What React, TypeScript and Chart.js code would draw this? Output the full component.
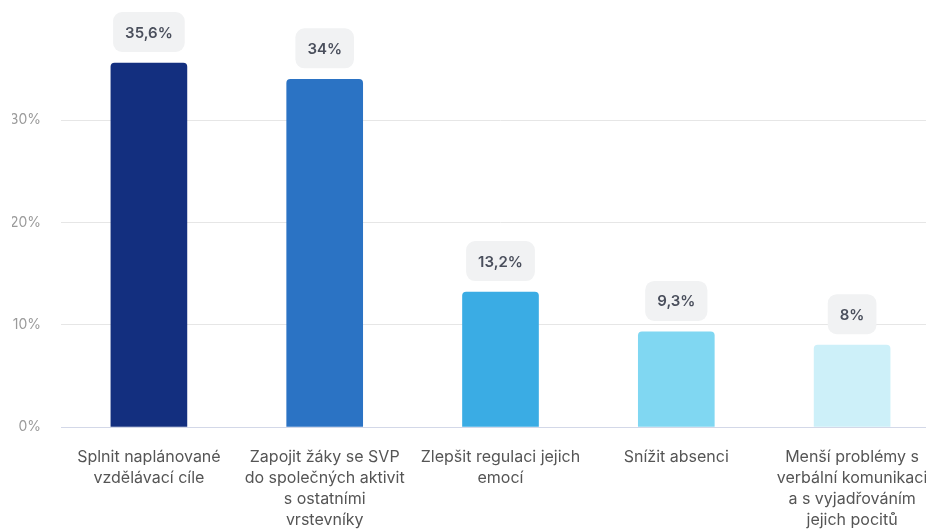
import React, { useEffect, useRef } from "react";
import { Chart, registerables } from "chart.js";

Chart.register(...registerables);

const categories: string[][] = [
  ["Splnit naplánované", "vzdělávací cíle"],
  ["Zapojit žáky se SVP", "do společných aktivit", "s ostatními", "vrstevníky"],
  ["Zlepšit regulaci jejich", "emocí"],
  ["Snížit absenci"],
  ["Menší problémy s", "verbální komunikaci", "a s vyjadřováním", "jejich pocitů"],
];
const values: number[] = [35.6, 34, 13.2, 9.3, 8];
const valueLabels: string[] = ["35,6%", "34%", "13,2%", "9,3%", "8%"];
const barColors: string[] = ["#132f7f", "#2b73c4", "#3aace4", "#80d7f2", "#cdf0f9"];
const tickValues: number[] = [0, 10, 20, 30];

const labelPlugin = {
  id: "valueBoxes",
  afterDatasetsDraw(chart: any) {
    const ctx = chart.ctx;
    const meta = chart.getDatasetMeta(0);
    ctx.save();
    ctx.font = "600 15px Inter, sans-serif";
    meta.data.forEach((bar: any, i: number) => {
      const text = valueLabels[i];
      const tw = ctx.measureText(text).width;
      const w = tw + 24;
      const h = 40;
      const x = bar.x - w / 2;
      const y = bar.y - 11 - h;
      ctx.fillStyle = "#f1f2f3";
      ctx.beginPath();
      ctx.roundRect(x, y, w, h, 9);
      ctx.fill();
      ctx.fillStyle = "#4a4f5c";
      ctx.textAlign = "center";
      ctx.textBaseline = "middle";
      ctx.fillText(text, bar.x, y + h / 2 + 1);
    });
    ctx.restore();
  },
};

export default function App() {
  const ref = useRef<HTMLCanvasElement | null>(null);
  useEffect(() => {
    document.documentElement.style.overflow = "hidden";
    const chart = new Chart(ref.current!, {
      type: "bar",
      data: {
        labels: categories,
        datasets: [
          {
            data: values,
            backgroundColor: barColors,
            barThickness: 76,
            borderRadius: { topLeft: 4, topRight: 4, bottomLeft: 0, bottomRight: 0 },
            borderSkipped: "bottom",
          },
        ],
      },
      options: {
        animation: false,
        responsive: false,
        layout: { padding: { top: 10, left: 4, right: 0, bottom: 0 } },
        plugins: { legend: { display: false }, tooltip: { enabled: false } },
        scales: {
          x: {
            afterFit(scale: any) {
              scale.paddingLeft = 0;
              scale.paddingRight = 0;
            },
            grid: { display: false, drawTicks: false },
            border: { color: "#d3d8e8", width: 1 },
            ticks: {
              padding: 20,
              color: "#555555",
              font: { family: "Inter, sans-serif", size: 16, lineHeight: 1.3125 },
              maxRotation: 0,
              autoSkip: false,
            },
          },
          y: {
            min: 0,
            max: 40,
            afterBuildTicks(scale: any) {
              scale.ticks = tickValues.map((v) => ({ value: v }));
            },
            afterFit(scale: any) {
              scale.width = 49;
              scale.paddingTop = 0;
              scale.paddingBottom = 0;
            },
            grid: { color: "#e6e6e6", drawTicks: false },
            border: { display: false },
            ticks: {
              padding: 20,
              color: "#9a9a9a",
              font: { family: "Inter, sans-serif", size: 14 },
              callback: (v: any) => v + "%",
            },
          },
        },
      },
      plugins: [labelPlugin],
    });
    return () => chart.destroy();
  }, []);
  return (
    <div style={{ position: "fixed", left: 8, top: 8, width: 932, height: 543 }}>
      <canvas ref={ref} width={932} height={543} />
    </div>
  );
}
